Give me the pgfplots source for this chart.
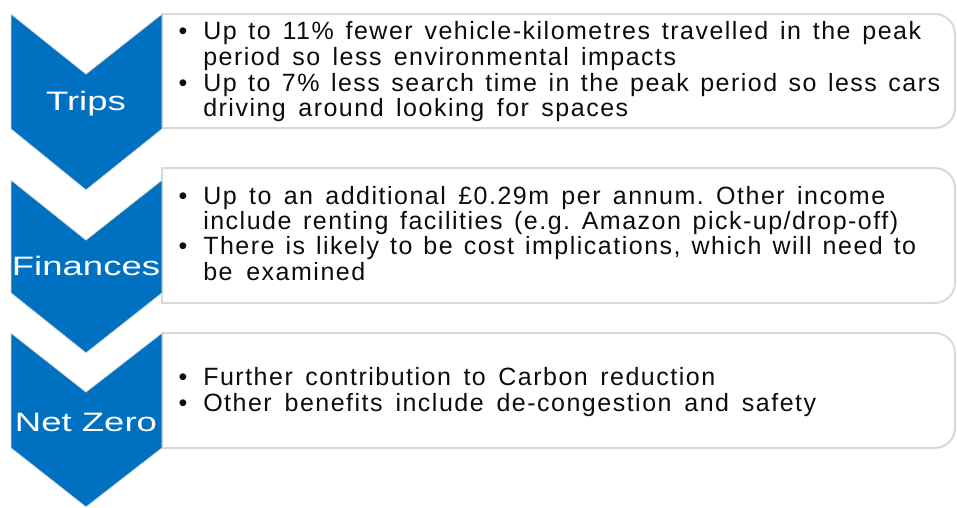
\documentclass[border=0pt]{standalone}
\usepackage{pgfplots}
\pgfplotsset{compat=1.18}
\usepackage{fontspec}
\setmainfont{Liberation Sans}
\newfontfamily\bodyfont{Liberation Sans}[LetterSpace=6]
\definecolor{chevblue}{HTML}{0070C0}
\definecolor{boxgray}{HTML}{D9D9D9}
\definecolor{txt}{HTML}{0D0D0D}
\newcommand{\bl}[2]{\makebox[#1][s]{#2}}
\frenchspacing
\begin{document}
\begin{tikzpicture}
\begin{axis}[
  width=717.75pt, height=380.25pt, scale only axis,
  xmin=0, xmax=957, ymin=0, ymax=507, y dir=reverse,
  hide axis, clip=false]
\addplot[draw=none, forget plot] coordinates {(0,0) (957,507)};
\path (axis cs:0,0) rectangle (axis cs:957,507);
% text boxes (rounded right corners)
\addplot[draw=boxgray, fill=white, line width=1.5pt] coordinates {
 (162,128) (162,14) (935,14) (940.18,14.68) (945,16.68) (949.14,19.86) (952.32,24) (954.32,28.82) (955,34)
 (955,108) (954.32,113.18) (952.32,118) (949.14,122.14) (945,125.32) (940.18,127.32) (935,128)} --cycle;
\addplot[draw=boxgray, fill=white, line width=1.5pt] coordinates {
 (162,303) (162,168) (935,168) (940.18,168.68) (945,170.68) (949.14,173.86) (952.32,178) (954.32,182.82) (955,188)
 (955,283) (954.32,288.18) (952.32,293) (949.14,297.14) (945,300.32) (940.18,302.32) (935,303)} --cycle;
\addplot[draw=boxgray, fill=white, line width=1.5pt] coordinates {
 (162,448) (162,333) (935,333) (940.18,333.68) (945,335.68) (949.14,338.86) (952.32,343) (954.32,347.82) (955,353)
 (955,428) (954.32,433.18) (952.32,438) (949.14,442.14) (945,445.32) (940.18,447.32) (935,448)} --cycle;
% chevrons
\addplot[fill=chevblue, draw=black!12, line width=0.6pt] coordinates {(11,14) (86,74) (162,14) (162,129) (86,190) (11,129)} --cycle;
\addplot[fill=chevblue, draw=black!12, line width=0.6pt] coordinates {(11,180) (86,240) (162,180) (162,293) (86,353) (11,293)} --cycle;
\addplot[fill=chevblue, draw=black!12, line width=0.6pt] coordinates {(11,333) (86,392) (162,333) (162,448) (86,507) (11,448)} --cycle;
% chevron labels
\node[anchor=base, text=white, inner sep=0] at (axis cs:86,110) {\scalebox{1.37}[1]{\fontsize{20}{24}\selectfont Trips}};
\node[anchor=base, text=white, inner sep=0] at (axis cs:86,275) {\scalebox{1.37}[1]{\fontsize{20}{24}\selectfont Finances}};
\node[anchor=base, text=white, inner sep=0] at (axis cs:86,431.5) {\scalebox{1.37}[1]{\fontsize{20}{24}\selectfont Net Zero}};
% bullets and body text
\begin{scope}[every node/.style={inner sep=0, text=txt, font=\fontsize{18.75}{22}\selectfont\bodyfont}]
\node[anchor=base] at (axis cs:183,39.5) {\textbullet};
\node[anchor=base] at (axis cs:183,91) {\textbullet};
\node[anchor=base] at (axis cs:183,204) {\textbullet};
\node[anchor=base] at (axis cs:183,254) {\textbullet};
\node[anchor=base] at (axis cs:183,385) {\textbullet};
\node[anchor=base] at (axis cs:183,411) {\textbullet};
\node[anchor=base west] at (axis cs:203,39.5) {\bl{538.5pt}{Up to 11\% fewer vehicle-kilometres travelled in the peak}};
\node[anchor=base west] at (axis cs:203,65) {\bl{354.75pt}{period so less environmental impacts}};
\node[anchor=base west] at (axis cs:203,91) {\bl{552.75pt}{Up to 7\% less search time in the peak period so less cars}};
\node[anchor=base west] at (axis cs:203,116.5) {\bl{318.75pt}{driving around looking for spaces}};
\node[anchor=base west] at (axis cs:203,204) {\bl{511.5pt}{Up to an additional £0.29m per annum. Other income}};
\node[anchor=base west] at (axis cs:203,229) {\bl{521.25pt}{include renting facilities (e.g. Amazon pick-up/drop-off)}};
\node[anchor=base west] at (axis cs:203,254) {\bl{534.75pt}{There is likely to be cost implications, which will need to}};
\node[anchor=base west] at (axis cs:203,280) {\bl{121.5pt}{be examined}};
\node[anchor=base west] at (axis cs:203,385) {\bl{384pt}{Further contribution to Carbon reduction}};
\node[anchor=base west] at (axis cs:203,411) {\bl{459.75pt}{Other benefits include de-congestion and safety}};
\end{scope}
\end{axis}
\end{tikzpicture}
\end{document}
